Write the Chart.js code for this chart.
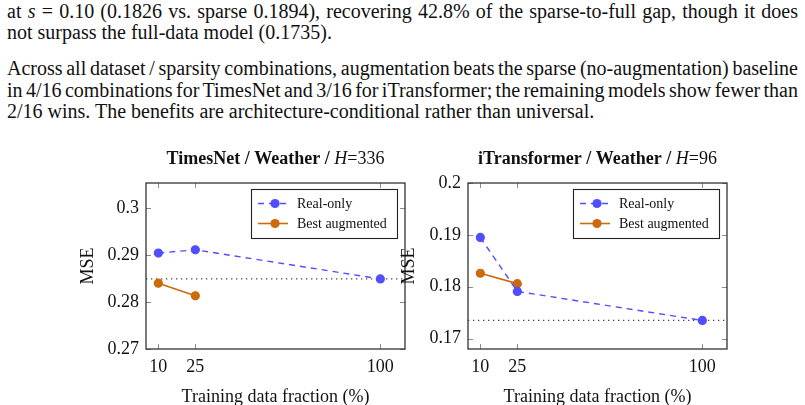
<!DOCTYPE html>
<html><head><meta charset="utf-8">
<script src="https://cdn.jsdelivr.net/npm/chart.js@4.4.1/dist/chart.umd.min.js"></script>
<style>
html,body{margin:0;padding:0;background:#fff;}
body{width:805px;height:405px;overflow:hidden;position:relative;font-family:"Liberation Serif","Times New Roman",serif;color:#111;}
.ln{position:absolute;left:7px;width:791px;font-family:"Liberation Serif","Times New Roman",serif;font-size:20px;line-height:22px;white-space:nowrap;}
.j{text-align:justify;text-align-last:justify;}
canvas{position:absolute;}
</style></head><body>
<div class="ln j" style="top:-0.5px;word-spacing:-1.5px">at <i>s</i> = 0.10 (0.1826 vs. sparse 0.1894), recovering 42.8% of the sparse-to-full gap, though it does</div>
<div class="ln" style="top:21px">not surpass the full-data model (0.1735).</div>
<div class="ln j" style="top:57px;word-spacing:-2.5px">Across all dataset / sparsity combinations, augmentation beats the sparse (no-augmentation) baseline</div>
<div class="ln j" style="top:78.5px;word-spacing:-2.5px">in 4/16 combinations for TimesNet and 3/16 for iTransformer; the remaining models show fewer than</div>
<div class="ln" style="top:100px">2/16 wins. The benefits are architecture-conditional rather than universal.</div>
<canvas id="c1" width="345" height="270" style="left:70px;top:140px;width:345px;height:270px"></canvas>
<canvas id="c2" width="345" height="270" style="left:395px;top:140px;width:345px;height:270px"></canvas>
<script>
// ---- data ----
const xFractions = [10, 25, 100];
const augFractions = [10, 25];
const timesNetReal = [0.2904, 0.2911, 0.2849];
const timesNetAug = [0.2840, 0.2813];
const timesNetFull = 0.2849;
const iTransReal = [0.1895, 0.1791, 0.1735];
const iTransAug = [0.1826, 0.1806];
const iTransFull = 0.1735;
const xTickValues = [10, 25, 100];
const timesNetYTicks = [0.27, 0.28, 0.29, 0.30];
const iTransYTicks = [0.17, 0.18, 0.19, 0.20];
const seriesNames = ['Real-only', 'Best augmented'];
const timesNetTitle = ['TimesNet / Weather / ', 'H', '=336'];
const iTransTitle = ['iTransformer / Weather / ', 'H', '=96'];
const xAxisLabel = 'Training data fraction (%)';
const yAxisLabel = 'MSE';

const FONT = '"Liberation Serif","Times New Roman",serif';
const BLUE = '#4f4fff';
const ORANGE = '#cc6a0c';
const TXT = '#111';

function framePlugin(p) {
  return {
    id: 'frame',
    beforeDatasetsDraw(chart) {
      const {ctx, chartArea: a, scales: {y}} = chart;
      const yy = y.getPixelForValue(p.full);
      ctx.save();
      ctx.strokeStyle = '#444'; ctx.lineWidth = 1.2; ctx.setLineDash([1.3, 3.7]);
      ctx.beginPath(); ctx.moveTo(a.left, yy); ctx.lineTo(a.right, yy); ctx.stroke();
      ctx.restore();
    },
    afterDatasetsDraw(chart) {
      const {ctx, chartArea: a, scales: {x, y}} = chart;
      ctx.save();
      // inward ticks
      ctx.strokeStyle = '#8a8a8a'; ctx.lineWidth = 1;
      ctx.beginPath();
      x.ticks.forEach(t => {
        const px = Math.round(x.getPixelForValue(t.value)) + 0.5;
        ctx.moveTo(px, a.bottom); ctx.lineTo(px, a.bottom - 5);
        ctx.moveTo(px, a.top); ctx.lineTo(px, a.top + 5);
      });
      y.ticks.forEach(t => {
        const py = Math.round(y.getPixelForValue(t.value)) + 0.5;
        ctx.moveTo(a.left, py); ctx.lineTo(a.left + 5, py);
        ctx.moveTo(a.right, py); ctx.lineTo(a.right - 5, py);
      });
      ctx.stroke();
      // frame
      ctx.strokeStyle = '#333'; ctx.lineWidth = 1.3;
      ctx.strokeRect(a.left, a.top, a.right - a.left, a.bottom - a.top);
      // legend
      const bw = 146, bh = 49;
      const bx = a.right - 8 - bw, by = a.top + 6;
      ctx.fillStyle = '#fff'; ctx.fillRect(bx, by, bw, bh);
      ctx.strokeStyle = '#222'; ctx.lineWidth = 1.1; ctx.strokeRect(bx + 0.5, by + 0.5, bw, bh);
      chart.data.datasets.forEach((ds, i) => {
        const cy = by + 14.5 + 20 * i;
        ctx.strokeStyle = ds.borderColor; ctx.lineWidth = ds.borderWidth;
        ctx.setLineDash(ds.borderDash || []);
        ctx.beginPath(); ctx.moveTo(bx + 7, cy); ctx.lineTo(bx + 37, cy); ctx.stroke();
        ctx.setLineDash([]);
        ctx.fillStyle = ds.pointBackgroundColor;
        ctx.beginPath(); ctx.arc(bx + 24, cy, 4.6, 0, Math.PI * 2); ctx.fill();
        ctx.fillStyle = TXT; ctx.font = '14px ' + FONT; ctx.textBaseline = 'middle'; ctx.textAlign = 'left';
        ctx.fillText(ds.label, bx + 46, cy + 0.5);
      });
      // title
      const parts = [
        {t: p.title[0], f: 'bold 18px ' + FONT},
        {t: p.title[1], f: 'italic 18px ' + FONT},
        {t: p.title[2], f: '18px ' + FONT}
      ];
      let total = 0;
      parts.forEach(q => { ctx.font = q.f; q.w = ctx.measureText(q.t).width; total += q.w; });
      let tx = (a.left + a.right) / 2 - total / 2;
      ctx.fillStyle = TXT; ctx.textBaseline = 'alphabetic'; ctx.textAlign = 'left';
      parts.forEach(q => { ctx.font = q.f; ctx.fillText(q.t, tx, 24); tx += q.w; });
      ctx.restore();
    }
  };
}

function makeChart(id, p) {
  return new Chart(document.getElementById(id), {
    type: 'line',
    data: {
      datasets: [
        {label: seriesNames[0], data: xFractions.map((x, i) => ({x, y: p.real[i]})),
         borderColor: BLUE, backgroundColor: BLUE, pointBackgroundColor: BLUE, pointBorderColor: BLUE,
         borderDash: [6, 5], borderWidth: 1.4, pointRadius: 4, pointBorderWidth: 1.2, tension: 0, fill: false},
        {label: seriesNames[1], data: augFractions.map((x, i) => ({x, y: p.aug[i]})),
         borderColor: ORANGE, backgroundColor: ORANGE, pointBackgroundColor: ORANGE, pointBorderColor: ORANGE,
         borderWidth: 1.6, pointRadius: 4, pointBorderWidth: 1.2, tension: 0, fill: false}
      ]
    },
    options: {
      responsive: false, animation: false, devicePixelRatio: 1,
      layout: {padding: {left: 0, right: p.padRight, top: 43, bottom: 0}},
      plugins: {legend: {display: false}, tooltip: {enabled: false}, title: {display: false}},
      scales: {
        x: {
          type: 'linear', min: 5, max: 110,
          grid: {display: false, drawTicks: false}, border: {display: false},
          afterFit(s) { s.height = 61; },
          afterBuildTicks(s) { s.ticks = xTickValues.map(v => ({value: v})); },
          ticks: {font: {family: FONT, size: 18}, color: TXT, padding: 7, maxRotation: 0, autoSkip: false,
                  callback: v => String(v)},
          title: {display: true, text: xAxisLabel, font: {family: FONT, size: 18}, color: TXT,
                  padding: {top: 0, bottom: 2}}
        },
        y: {
          type: 'linear', min: p.ymin, max: p.ymax,
          grid: {display: false, drawTicks: false}, border: {display: false},
          afterFit(s) { s.width = p.yWidth; },
          afterBuildTicks(s) { s.ticks = p.yTicks.map(v => ({value: v})); },
          ticks: {font: {family: FONT, size: 18}, color: TXT, padding: 7, autoSkip: false,
                  callback: v => String(+(+v).toFixed(2))},
          title: {display: true, text: yAxisLabel, font: {family: FONT, size: 18}, color: TXT,
                  padding: {top: p.msePad, bottom: 0}}
        }
      }
    },
    plugins: [framePlugin(p)]
  });
}

makeChart('c1', {real: timesNetReal, aug: timesNetAug, full: timesNetFull, yTicks: timesNetYTicks,
  ymin: 0.27, ymax: 0.3053, yWidth: 76, padRight: 10, msePad: 7.2, title: timesNetTitle});
makeChart('c2', {real: iTransReal, aug: iTransAug, full: iTransFull, yTicks: iTransYTicks,
  ymin: 0.168, ymax: 0.2, yWidth: 73, padRight: 13, msePad: 3.2, title: iTransTitle});
</script>
</body></html>
